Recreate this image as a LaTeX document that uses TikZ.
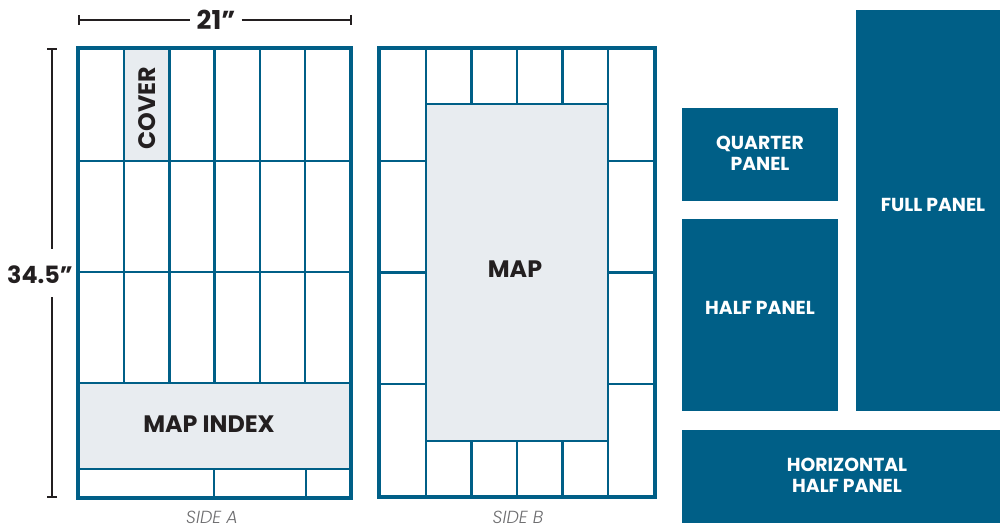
\documentclass[tikz,border=0pt]{standalone}
\usepackage{fontspec}
\usetikzlibrary{arrows.meta}
\newfontfamily\popb{Poppins}[UprightFont={* Bold}]
\newfontfamily\popl{Poppins Light Italic}
\definecolor{pblue}{RGB}{0,95,135}
\definecolor{pgray}{RGB}{232,236,240}
\definecolor{ink}{RGB}{35,31,32}
\definecolor{capgray}{RGB}{110,110,112}
\begin{document}
\begin{tikzpicture}[x=1pt,y=-1pt,
  outerln/.style={draw=pblue,line width=3.6pt},
  rowln/.style={draw=pblue,line width=2.8pt},
  colln/.style={draw=pblue,line width=2.2pt},
  fineln/.style={draw=pblue,line width=1.5pt},
  dimln/.style={draw=ink,line width=2pt},
  darklabel/.style={font=\popb\fontsize{23.8}{26}\selectfont,text=ink,inner sep=0pt},
  sidelabel/.style={font=\popl\fontsize{17.5}{20}\selectfont,text=capgray,inner sep=0pt},
  panel/.style={fill=pblue,inner sep=0pt},
  wlabel/.style={font=\popb\fontsize{18.8}{21}\selectfont,text=white,align=center,inner sep=0pt}]
\useasboundingbox (0,0) rectangle (1000,529);

% ---------- dimension lines ----------
\coordinate (hl) at (78,20);
\coordinate (hr) at (352,20);
\node[darklabel,font=\popb\fontsize{26}{28}\selectfont,inner xsep=6pt] (wdim) at (216,20) {21”};
\draw[dimln,{Bar[width=10pt,line width=2pt]}-] (hl) -- (wdim.west);
\draw[dimln,-{Bar[width=10pt,line width=2pt]}] (wdim.east) -- (hr);

\coordinate (vt) at (52,48);
\coordinate (vg1) at (52,249);
\coordinate (vg2) at (52,297);
\coordinate (vb) at (52,498);
\node[darklabel] (hdim) at (40,275) {34.5”};
\draw[dimln,{Bar[width=10pt,line width=2pt]}-] (vt) -- (vg1);
\draw[dimln,-{Bar[width=10pt,line width=2pt]}] (vg2) -- (vb);

% ---------- side A ----------
\fill[pgray] (124,48) rectangle (169.5,161);
\fill[pgray] (78,383) rectangle (351,469);
\foreach \x in {124,169.5,214.5,260,305}{
  \draw[colln] (\x,48) -- (\x,383);
}
\foreach \y in {161,272,383,469}{
  \draw[rowln] (78,\y) -- (351,\y);
}
\draw[fineln] (214,469) -- (214,498);
\draw[fineln] (306,469) -- (306,498);
\draw[outerln] (78,48) rectangle (351,498);
\node[darklabel,rotate=90] (cover) at (147,108.5) {COVER};
\node[darklabel] (mapindex) at (209,424) {MAP INDEX};
\node[sidelabel] (sidea) at (212,517.5) {SIDE A};

% ---------- side B ----------
\fill[pgray] (426,104) rectangle (608,441);
\foreach \x in {471.5,517,562.5}{
  \draw[colln] (\x,48) -- (\x,104);
  \draw[colln] (\x,441) -- (\x,497);
}
\foreach \y in {161,272.5,384}{
  \draw[rowln] (379,\y) -- (426,\y);
  \draw[rowln] (608,\y) -- (655,\y);
}
\draw[rowln] (426,104) rectangle (608,441);
\draw[rowln] (426,48) -- (426,497);
\draw[rowln] (608,48) -- (608,497);
\draw[outerln] (379,48) rectangle (655,497);
\node[darklabel] (map) at (515,269) {MAP};
\node[sidelabel] (sideb) at (518,517.5) {SIDE B};

% ---------- panel legend ----------
\path[panel] (682,108) rectangle (838,201);
\path[panel] (682,219) rectangle (838,411);
\path[panel] (856,10) rectangle (1000,411);
\path[panel] (682,430) rectangle (1000,523);
\node[wlabel] (quarter) at (760,153) {QUARTER\\PANEL};
\node[wlabel] (half) at (760,308) {HALF PANEL};
\node[wlabel] (full) at (933,205) {FULL PANEL};
\node[wlabel] (horiz) at (847,475.5) {HORIZONTAL\\HALF PANEL};
\end{tikzpicture}
\end{document}
